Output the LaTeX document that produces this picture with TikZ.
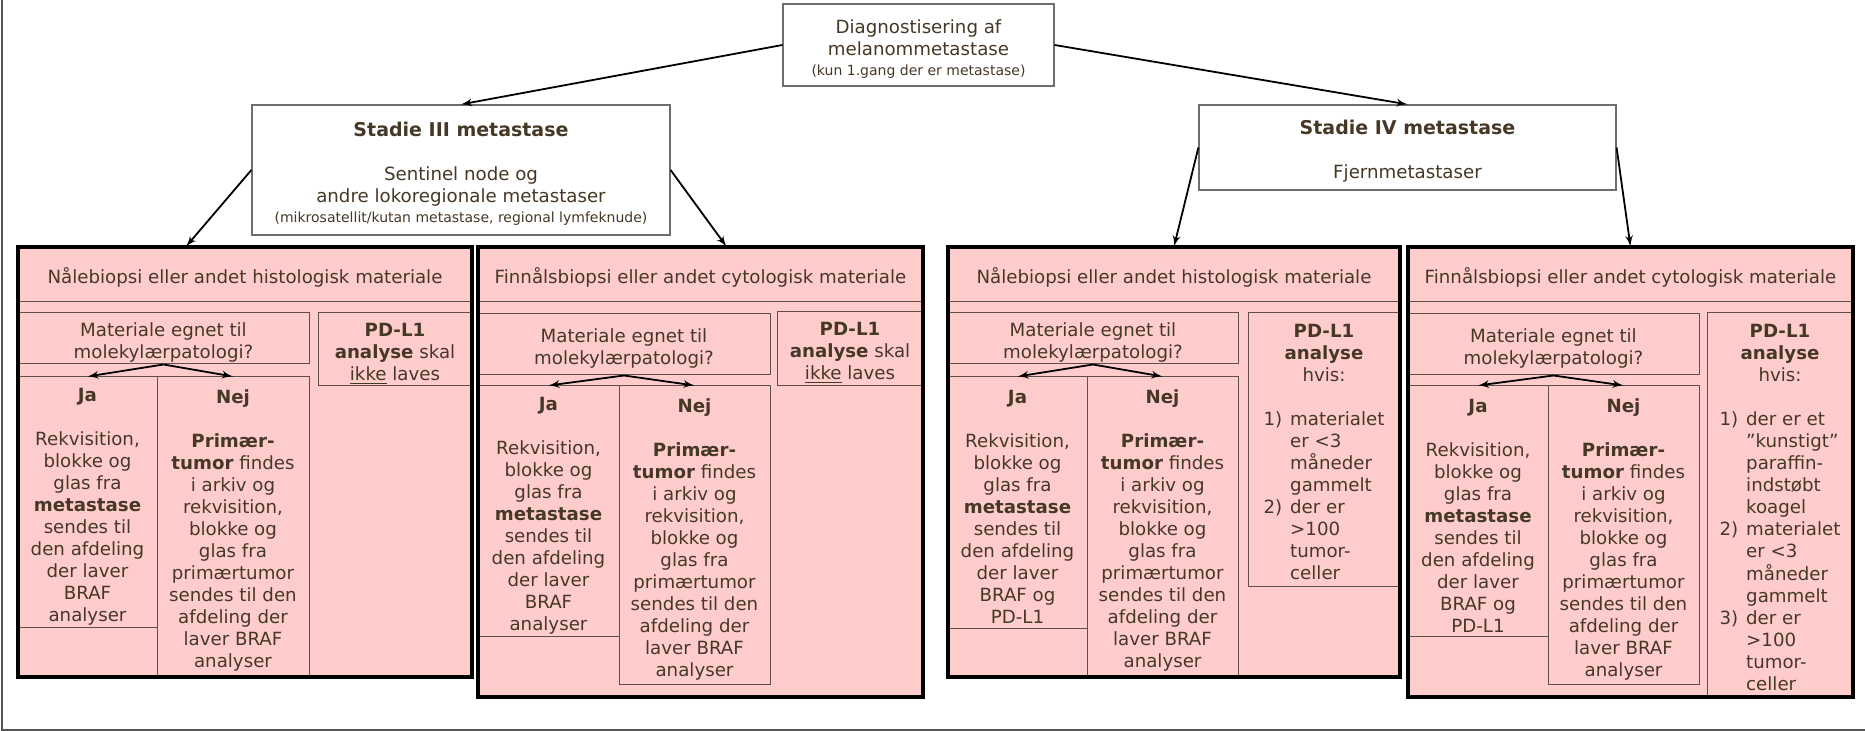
\documentclass[tikz,border=0pt]{standalone}
\usepackage{fontspec}
\setmainfont{DejaVu Sans}
\usepackage{tikz}
\usetikzlibrary{arrows}

\definecolor{pinkfill}{RGB}{255,204,204}
\definecolor{textbrown}{RGB}{70,56,38}
\definecolor{cellline}{RGB}{95,80,75}
\definecolor{boxline}{RGB}{110,110,110}
\definecolor{frameline}{RGB}{85,85,85}

\newcommand{\smalltxt}{\fontsize{7}{8.5}\selectfont}
\newcommand{\headtxt}{\fontsize{9.5}{11}\selectfont}
\newcommand{\up}{\rule{0pt}{10.8pt}}
\newcommand{\toprow}{\rule{0pt}{12.5pt}}

\begin{document}
\begin{tikzpicture}[x=0.5pt, y=-0.5pt, >=latex',
  every node/.style={font=\fontsize{9.1}{11}\selectfont, text=textbrown, inner sep=0pt, align=center},
  corners/.style args={#1/#2/#3/#4}{at={({(#1+#3)/2},{(#2+#4)/2})}, minimum width={(#3-#1)*0.5pt}, minimum height={(#4-#2)*0.5pt}},
  topbox/.style={draw=boxline, line width=0.6pt, fill=white},
  panel/.style={fill=pinkfill},
  cell/.style={draw=cellline, line width=0.5pt, fill=pinkfill},
  arr/.style={->, line width=0.9pt, black}]
\useasboundingbox (0,0) rectangle (1865,731);
\draw[frameline, line width=0.6pt] (2,0) -- (2,730) -- (1865,730);

% top of the tree
\node[topbox, corners=783/4/1054/86] (diag) {\up Diagnostisering af\\ melanommetastase\\[-1pt] {\smalltxt (kun 1.gang der er metastase)}};
\node[topbox, corners=252/105/670/235] (st3) {\up{\headtxt\textbf{Stadie III metastase}}\\[11pt] Sentinel node og\\ andre lokoregionale metastaser\\[-1pt] {\smalltxt (mikrosatellit/kutan metastase, regional lymfeknude)}};
\node[topbox, corners=1199/105/1616/190] (st4) {\up{\headtxt\textbf{Stadie IV metastase}}\\[11pt] Fjernmetastaser};

% panels
\node[panel, corners=18/247/472/677] (pan1) {};
\node[panel, corners=478/247/923/697] (pan2) {};
\node[panel, corners=948/247/1400/677] (pan3) {};
\node[panel, corners=1408/247/1853/697] (pan4) {};

% stadie III, histologisk
\node[cell, corners=18/247/472/302] (hd1) {\up Nålebiopsi eller andet histologisk materiale};
\node[cell, corners=18/313/309/364] (mat1) {\up Materiale egnet til\\ molekylærpatologi?};
\node[cell, corners=318/313/472/386] (pd1) {\up\textbf{PD-L1}\\ \textbf{analyse} skal\\ \underline{ikke} laves};
\node[cell, corners=18/377/157/628] (ja1) {\up\textbf{Ja}\\[11pt] Rekvisition,\\ blokke og\\ glas fra\\ \textbf{metastase}\\ sendes til\\ den afdeling\\ der laver\\ BRAF\\ analyser};
\node[cell, corners=157/377/309/677] (nej1) {\up\textbf{Nej}\\[11pt] \textbf{Primær-}\\ \textbf{tumor} findes\\ i arkiv og\\ rekvisition,\\ blokke og\\ glas fra\\ primærtumor\\ sendes til den\\ afdeling der\\ laver BRAF\\ analyser};

% stadie III, cytologisk
\node[cell, corners=478/247/923/302] (hd2) {\up Finnålsbiopsi eller andet cytologisk materiale};
\node[cell, corners=478/314/770/375] (mat2) {\up Materiale egnet til\\ molekylærpatologi?};
\node[cell, corners=777/312/923/386] (pd2) {\up\textbf{PD-L1}\\ \textbf{analyse} skal\\ \underline{ikke} laves};
\node[cell, corners=478/386/619/637] (ja2) {\up\textbf{Ja}\\[11pt] Rekvisition,\\ blokke og\\ glas fra\\ \textbf{metastase}\\ sendes til\\ den afdeling\\ der laver\\ BRAF\\ analyser};
\node[cell, corners=619/386/770/685] (nej2) {\up\textbf{Nej}\\[11pt] \textbf{Primær-}\\ \textbf{tumor} findes\\ i arkiv og\\ rekvisition,\\ blokke og\\ glas fra\\ primærtumor\\ sendes til den\\ afdeling der\\ laver BRAF\\ analyser};

% stadie IV, histologisk
\node[cell, corners=948/247/1400/302] (hd3) {\up Nålebiopsi eller andet histologisk materiale};
\node[cell, corners=948/313/1238/364] (mat3) {\up Materiale egnet til\\ molekylærpatologi?};
\node[cell, corners=1248/313/1400/586] (pd3) {\begin{tabular}{@{}r@{\hspace{4pt}}l@{}}
  \multicolumn{2}{c}{\toprow\textbf{PD-L1}}\\
  \multicolumn{2}{c}{\textbf{analyse}}\\
  \multicolumn{2}{c}{hvis:}\\[11pt]
  1) & materialet\\ & er <3\\ & måneder\\ & gammelt\\
  2) & der er\\ & >100\\ & tumor-\\ & celler
  \end{tabular}};
\node[cell, corners=948/377/1087/629] (ja3) {\up\textbf{Ja}\\[11pt] Rekvisition,\\ blokke og\\ glas fra\\ \textbf{metastase}\\ sendes til\\ den afdeling\\ der laver\\ BRAF og\\ PD-L1};
\node[cell, corners=1087/377/1238/677] (nej3) {\up\textbf{Nej}\\[11pt] \textbf{Primær-}\\ \textbf{tumor} findes\\ i arkiv og\\ rekvisition,\\ blokke og\\ glas fra\\ primærtumor\\ sendes til den\\ afdeling der\\ laver BRAF\\ analyser};

% stadie IV, cytologisk
\node[cell, corners=1408/247/1853/302] (hd4) {\up Finnålsbiopsi eller andet cytologisk materiale};
\node[cell, corners=1408/314/1699/375] (mat4) {\up Materiale egnet til\\ molekylærpatologi?};
\node[cell, corners=1707/313/1853/697] (pd4) {\begin{tabular}{@{}r@{\hspace{4pt}}l@{}}
  \multicolumn{2}{c}{\toprow\textbf{PD-L1}}\\
  \multicolumn{2}{c}{\textbf{analyse}}\\
  \multicolumn{2}{c}{hvis:}\\[11pt]
  1) & der er et\\ & ”kunstigt”\\ & paraffin-\\ & indstøbt\\ & koagel\\
  2) & materialet\\ & er <3\\ & måneder\\ & gammelt\\
  3) & der er\\ & >100\\ & tumor-\\ & celler
  \end{tabular}};
\node[cell, corners=1408/386/1548/637] (ja4) {\up\textbf{Ja}\\[11pt] Rekvisition,\\ blokke og\\ glas fra\\ \textbf{metastase}\\ sendes til\\ den afdeling\\ der laver\\ BRAF og\\ PD-L1};
\node[cell, corners=1548/386/1699/685] (nej4) {\up\textbf{Nej}\\[11pt] \textbf{Primær-}\\ \textbf{tumor} findes\\ i arkiv og\\ rekvisition,\\ blokke og\\ glas fra\\ primærtumor\\ sendes til den\\ afdeling der\\ laver BRAF\\ analyser};

\foreach \p in {pan1,pan2,pan3,pan4}
  \draw[line width=2pt] (\p.north west) rectangle (\p.south east);

% arrows
\draw[arr] (diag.west) to (st3.north);
\draw[arr] (diag.east) to (st4.north);
\draw[arr] (st3.west) to ([xshift=-29.5pt]pan1.north);
\draw[arr] (st3.east) to ([xshift=13pt]pan2.north);
\draw[arr] (st4.west) to (pan3.north);
\draw[arr] (st4.east) to (pan4.north);
\foreach \i in {1,2,3,4} {
  \draw[arr] (mat\i.south) to (ja\i.north);
  \draw[arr] (mat\i.south) to (nej\i.north);
}
\end{tikzpicture}
\end{document}
